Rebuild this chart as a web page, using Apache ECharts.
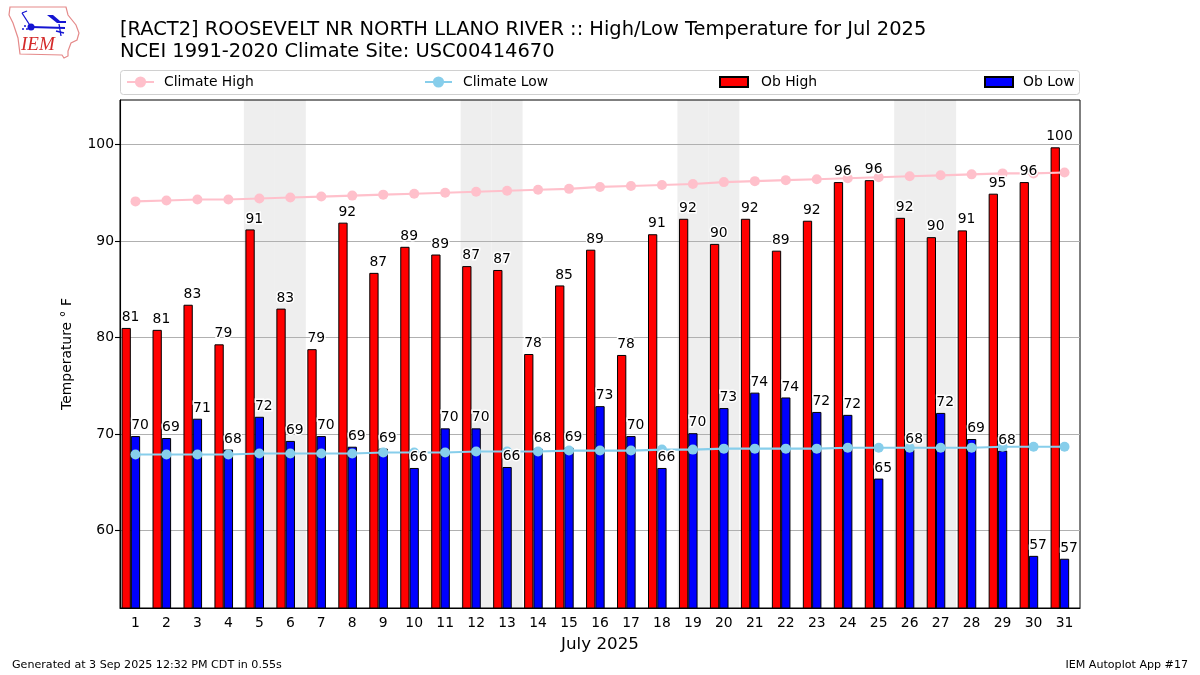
<!DOCTYPE html>
<html style="height: 100%">

<head>
  <meta charset="UTF-8" />
  <title>High/Low Temperature</title>
  <script src="https://cdn.jsdelivr.net/npm/echarts@6/dist/echarts.min.js"></script>
  <script>
    const days = ['1', '2', '3', '4', '5', '6', '7', '8', '9', '10', '11', '12', '13', '14', '15', '16',
      '17', '18', '19', '20', '21', '22', '23', '24', '25', '26', '27', '28', '29', '30', '31'];
    const weekendDays = ['5', '6', '12', '13', '19', '20', '26', '27'];
    const yTicks = [60, 70, 80, 90, 100];

    // bar heights, the printed labels are the rounded obs
    const obHigh = [81.0, 80.8, 83.4, 79.3, 91.2, 83.0, 78.8, 91.9, 86.7, 89.4, 88.6, 87.4, 87.0, 78.3, 85.4, 89.1,
      78.2, 90.7, 92.3, 89.7, 92.3, 89.0, 92.1, 96.1, 96.3, 92.4, 90.4, 91.1, 94.9, 96.1, 99.7];
    const obLow = [69.8, 69.6, 71.6, 68.4, 71.8, 69.3, 69.8, 68.7, 68.5, 66.5, 70.6, 70.6, 66.6, 68.5, 68.6, 72.9,
      69.8, 66.5, 70.1, 72.7, 74.3, 73.8, 72.3, 72.0, 65.4, 68.4, 72.2, 69.5, 68.3, 57.4, 57.1];
    const highLabels = [81, 81, 83, 79, 91, 83, 79, 92, 87, 89, 89, 87, 87, 78, 85, 89,
      78, 91, 92, 90, 92, 89, 92, 96, 96, 92, 90, 91, 95, 96, 100];
    const lowLabels = [70, 69, 71, 68, 72, 69, 70, 69, 69, 66, 70, 70, 66, 68, 69, 73,
      70, 66, 70, 73, 74, 74, 72, 72, 65, 68, 72, 69, 68, 57, 57];
    const climateHigh = [94.1, 94.2, 94.3, 94.3, 94.4, 94.5, 94.6, 94.7, 94.8, 94.9, 95.0, 95.1, 95.2, 95.3, 95.4, 95.6,
      95.7, 95.8, 95.9, 96.1, 96.2, 96.3, 96.4, 96.5, 96.6, 96.7, 96.8, 96.9, 97.0, 97.0, 97.1];
    const climateLow = [67.9, 67.9, 67.9, 67.9, 68.0, 68.0, 68.0, 68.0, 68.1, 68.1, 68.1, 68.2, 68.2, 68.2, 68.3, 68.3,
      68.3, 68.4, 68.4, 68.5, 68.5, 68.5, 68.5, 68.6, 68.6, 68.6, 68.6, 68.6, 68.7, 68.7, 68.7];

    const FONT = 'DejaVu Sans';
    const Y_MIN = 52;
    const Y_MAX = 104.6;

    function legendOne(name, left, itemWidth, itemHeight, textPad, icon) {
      return {
        data: icon ? [{ name: name, icon: icon }] : [name],
        left: left,
        top: 75,
        padding: 0,
        itemWidth: itemWidth,
        itemHeight: itemHeight,
        selectedMode: false,
        lineStyle: { width: 2 },
        textStyle: { fontFamily: FONT, fontSize: 13.9, color: '#000', padding: [0, 0, 0, textPad] }
      };
    }

    function lineSeries(name, values, color) {
      return {
        name: name,
        type: 'line',
        data: values,
        z: 4,
        symbol: 'circle',
        symbolSize: 10,
        lineStyle: { color: color, width: 2.1 },
        itemStyle: { color: color }
      };
    }

    // labels sit above the climate lines, so they get their own series:
    // a white halo first, then clean black text on top of it
    function labelSeries(values, labels, dx, halo) {
      return {
        type: 'scatter',
        data: values,
        z: halo ? 5 : 6,
        symbolSize: 1,
        itemStyle: { color: 'transparent', opacity: 1 },
        label: {
          show: true,
          position: 'top',
          distance: 3,
          offset: [dx, 0],
          fontFamily: FONT,
          fontSize: 13.9,
          color: halo ? '#fff' : '#000',
          textBorderColor: halo ? '#fff' : 'transparent',
          textBorderWidth: halo ? 3 : 0,
          formatter: p => labels[p.dataIndex]
        }
      };
    }

    function logo() {
      const blue = '#1414d2';
      return {
        type: 'group',
        children: [
          {
            type: 'polygon',
            shape: { points: [[10, 7], [66, 7], [68, 15], [76, 25], [79, 33], [77, 40], [71, 43], [68, 51], [68, 56], [64, 58], [62, 55], [20, 54], [18, 38], [13, 23], [9, 15]] },
            style: { fill: '#fff', stroke: '#e58a8a', lineWidth: 1.2 }
          },
          { type: 'line', shape: { x1: 31, y1: 27, x2: 65, y2: 28 }, style: { stroke: blue, lineWidth: 2 } },
          { type: 'line', shape: { x1: 31, y1: 27, x2: 22, y2: 13 }, style: { stroke: blue, lineWidth: 1.3 } },
          { type: 'line', shape: { x1: 22, y1: 13, x2: 27, y2: 11 }, style: { stroke: blue, lineWidth: 1.3 } },
          { type: 'line', shape: { x1: 59, y1: 24, x2: 61, y2: 36 }, style: { stroke: blue, lineWidth: 1.3 } },
          { type: 'line', shape: { x1: 56, y1: 31, x2: 64, y2: 33 }, style: { stroke: blue, lineWidth: 1.3 } },
          { type: 'polygon', shape: { points: [[47, 15], [53, 15], [60, 21], [66, 21], [66, 23], [57, 23]] }, style: { fill: blue } },
          { type: 'circle', shape: { cx: 31, cy: 27, r: 3.5 }, style: { fill: blue } },
          { type: 'circle', shape: { cx: 25, cy: 26, r: 1 }, style: { fill: blue } },
          { type: 'circle', shape: { cx: 23, cy: 29, r: 1 }, style: { fill: blue } },
          { type: 'circle', shape: { cx: 27, cy: 29, r: 1 }, style: { fill: blue } },
          {
            type: 'text',
            x: 21,
            y: 35,
            style: { text: 'IEM', fontFamily: 'Liberation Serif', fontStyle: 'italic', fontSize: 19, fill: '#d42a2a' }
          }
        ]
      };
    }

    function renderChart() {
      const myChart = echarts.init(document.getElementById('container'), null, { renderer: 'canvas' });
      myChart.setOption({
        animation: false,
        backgroundColor: '#fff',
        title: {
          text: '[RACT2] ROOSEVELT NR NORTH LLANO RIVER :: High/Low Temperature for Jul 2025\nNCEI 1991-2020 Climate Site: USC00414670',
          left: 120,
          top: 19,
          padding: 0,
          textStyle: { fontFamily: FONT, fontSize: 19.45, fontWeight: 'normal', color: '#000', lineHeight: 22 }
        },
        legend: [
          legendOne('Climate High', 126, 27, 14, 5),
          legendOne('Climate Low', 424, 27, 14, 6),
          legendOne('Ob High', 719, 28, 10, 8, 'rect'),
          legendOne('Ob Low', 984, 28, 10, 5, 'rect')
        ],
        grid: { left: 120, right: 120, top: 100, bottom: 67, show: true, borderColor: '#000', borderWidth: 1 },
        xAxis: [
          {
            type: 'category',
            data: days,
            name: 'July 2025',
            nameLocation: 'middle',
            nameGap: 28,
            nameTextStyle: { fontFamily: FONT, fontSize: 16.7, color: '#000' },
            axisLine: { lineStyle: { color: '#000', width: 1.1 } },
            axisTick: { alignWithLabel: true, length: 5, lineStyle: { color: '#000', width: 1.1 } },
            axisLabel: { interval: 0, margin: 8, fontFamily: FONT, fontSize: 13.9, color: '#000' }
          },
          { type: 'category', data: days, show: false }
        ],
        yAxis: {
          type: 'value',
          min: Y_MIN,
          max: Y_MAX,
          name: 'Temperature ° F',
          nameLocation: 'middle',
          nameGap: 46,
          nameTextStyle: { fontFamily: FONT, fontSize: 13.9, color: '#000' },
          axisLine: { show: true, lineStyle: { color: '#000', width: 1.1 } },
          axisTick: { show: true, length: 5, lineStyle: { color: '#000', width: 1.1 }, customValues: yTicks },
          axisLabel: { margin: 6, fontFamily: FONT, fontSize: 13.9, color: '#000', customValues: yTicks },
          splitLine: { show: true, lineStyle: { color: '#b0b0b0', width: 1.1 } }
        },
        series: [
          {
            name: 'weekend',
            type: 'bar',
            xAxisIndex: 1,
            barWidth: '100%',
            z: -1,
            silent: true,
            itemStyle: { color: '#eeeeee' },
            data: days.map(d => (weekendDays.includes(d) ? Y_MAX : null))
          },
          {
            name: 'Ob High',
            type: 'bar',
            barWidth: '30%',
            barGap: 0,
            itemStyle: { color: '#ff0000', borderColor: '#000', borderWidth: 1 },
            data: obHigh
          },
          {
            name: 'Ob Low',
            type: 'bar',
            barWidth: '30%',
            barGap: 0,
            itemStyle: { color: '#0000ff', borderColor: '#000', borderWidth: 1 },
            data: obLow
          },
          // empty slot, pushes the low bar onto the day tick like the original
          { name: 'spacer', type: 'bar', barWidth: '30%', barGap: 0, data: [] },
          lineSeries('Climate High', climateHigh, '#ffc0cb'),
          lineSeries('Climate Low', climateLow, '#87ceeb'),
          labelSeries(obHigh, highLabels, -5, true),
          labelSeries(obLow, lowLabels, 4.5, true),
          labelSeries(obHigh, highLabels, -5, false),
          labelSeries(obLow, lowLabels, 4.5, false)
        ],
        graphic: [
          logo(),
          {
            type: 'rect',
            shape: { x: 120.5, y: 70.5, width: 959, height: 24, r: 3 },
            style: { fill: 'none', stroke: '#d0d0d0', lineWidth: 1 }
          },
          {
            type: 'text',
            x: 12,
            y: 660,
            style: { text: 'Generated at 3 Sep 2025 12:32 PM CDT in 0.55s', fontFamily: FONT, fontSize: 11.1, fill: '#000' }
          },
          {
            type: 'text',
            x: 1188,
            y: 660,
            style: { text: 'IEM Autoplot App #17', align: 'right', fontFamily: FONT, fontSize: 11.1, fill: '#000' }
          }
        ]
      });
    }

    window.addEventListener('load', renderChart);
  </script>
</head>

<body style="height: 100%; margin: 0">
  <div id="container" style="width: 1200px; height: 675px"></div>
</body>

</html>
